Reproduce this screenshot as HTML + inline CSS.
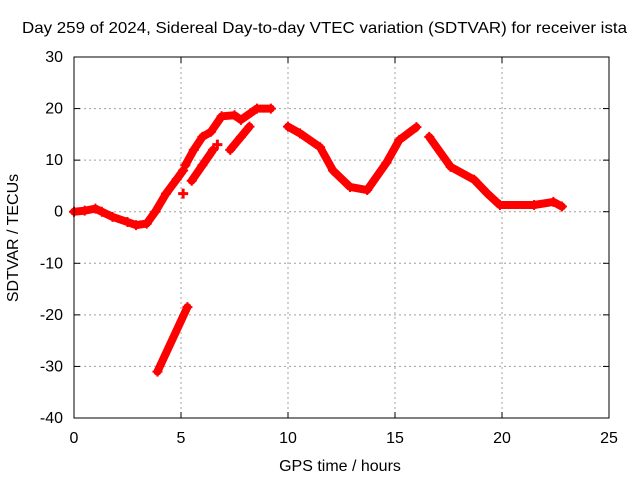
<!DOCTYPE html>
<html><head><meta charset="utf-8"><style>
body{margin:0;background:#fff;}
svg{display:block;font-family:"Liberation Sans",sans-serif;}
</style></head><body>
<svg id="chart" width="640" height="480">
<text x="22" y="33" font-size="16" textLength="605" lengthAdjust="spacingAndGlyphs">Day 259 of 2024, Sidereal Day-to-day VTEC variation (SDTVAR) for receiver ista</text>
<text x="340" y="471" text-anchor="middle" font-size="16">GPS time / hours</text>
<text transform="translate(18,238) rotate(-90)" text-anchor="middle" font-size="16">SDTVAR / TECUs</text>
<g id="grid"></g><g id="marks"></g>
<rect x="74" y="57" width="535" height="361" fill="none" stroke="#000" stroke-width="1"/>
</svg>
<script>
const xTicks=[0,5,10,15,20,25];
const yTicks=[30,20,10,0,-10,-20,-30,-40];
const segA=[[0,0],[0.5,0.2],[1,0.6],[1.3,0],[1.8,-1],[2.5,-2],[2.9,-2.6],[3.4,-2.3],[3.8,0],[4.3,3.5],[4.8,6.3],[5.1,8]];
const segB=[[5.2,9],[5.6,12],[6,14.5],[6.4,15.5],[6.9,18.5],[7.5,18.7],[7.8,17.8],[8.55,20],[9.2,20]];
const segC=[[5.5,6],[6,9],[6.5,12]];
const segD=[[7.3,12],[7.8,14.5],[8.2,16.5]];
const segE=[[10,16.5],[10.56,15.2],[11.5,12.5],[12.1,8],[12.9,4.8],[13.7,4.2],[14.6,9.5],[15.2,13.9],[16,16.4]];
const segF=[[16.6,14.5],[17.6,8.7],[18.7,6.2],[19.3,3.6],[19.9,1.3],[21.5,1.3],[22.4,1.9],[22.8,1]];
const segG=[[3.9,-31],[5.3,-18.5]];
const blobs=[[5.1,3.5],[6.7,13]];
const sx=h=>74+h*535/25, sy=v=>57+(30-v)*361/70;
const NS="http://www.w3.org/2000/svg";
const svg=document.getElementById('chart'),grid=document.getElementById('grid'),marks=document.getElementById('marks');
function mk(t,a){const e=document.createElementNS(NS,t);for(const k in a)e.setAttribute(k,a[k]);return e;}
xTicks.forEach(t=>{const x=sx(t);
 if(t>0&&t<25){const g=mk('line',{x1:x,x2:x,y1:57,y2:418,stroke:'#a0a0a0','stroke-dasharray':'2,3'});
 
 grid.appendChild(g);}
 grid.appendChild(mk('line',{x1:x,x2:x,y1:418,y2:412,stroke:'#000'}));
 grid.appendChild(mk('line',{x1:x,x2:x,y1:57,y2:63,stroke:'#000'}));
 const l=mk('text',{x:x,y:443,'text-anchor':'middle','font-size':16});l.textContent=t;
 
 grid.appendChild(l);});
yTicks.forEach(t=>{const y=sy(t);
 if(t<30&&t>-40){const g=mk('line',{x1:74,x2:609,y1:y,y2:y,stroke:'#a0a0a0','stroke-dasharray':'2,3'});
 
 grid.appendChild(g);}
 grid.appendChild(mk('line',{x1:74,x2:80,y1:y,y2:y,stroke:'#000'}));
 grid.appendChild(mk('line',{x1:603,x2:609,y1:y,y2:y,stroke:'#000'}));
 const l=mk('text',{x:63,y:y+5,'text-anchor':'end','font-size':16});l.textContent=t;
 
 grid.appendChild(l);});
[segA,segB,segC,segD,segE,segF,segG].forEach(s=>{
 const p=mk('polyline',{points:s.map(d=>sx(d[0])+','+sy(d[1])).join(' '),fill:'none',stroke:'#ff0000','stroke-width':8,'stroke-linejoin':'round','stroke-linecap':'round'});
 
 marks.appendChild(p);
 s.forEach(d=>{const x=sx(d[0]),y=sy(d[1]);
  const m=mk('path',{d:`M${x-5},${y}H${x+5}M${x},${y-5}V${y+5}`,stroke:'#ff0000','stroke-width':2});
  
  marks.appendChild(m);});
});
blobs.forEach(d=>{const x=sx(d[0]),y=sy(d[1]);
 const m=mk('path',{d:`M${x-5},${y}H${x+5}M${x},${y-5}V${y+5}`,stroke:'#ff0000','stroke-width':3});
 
 marks.appendChild(m);});
</script>
</body></html>
